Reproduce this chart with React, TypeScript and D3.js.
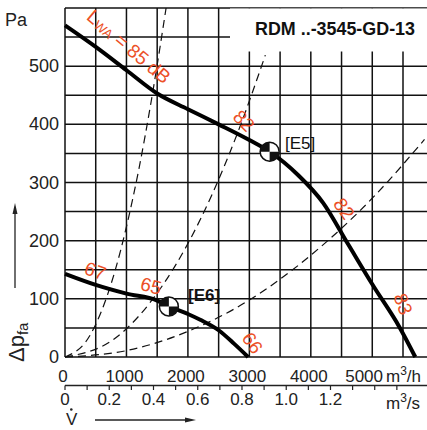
import React from "react";
import * as d3 from "d3";

// ---- data (flow in m³/h, pressure in Pa) ----
const flowTicks = [0, 1000, 2000, 3000, 4000, 5000];
const flowGrid = [0, 500, 1000, 1500, 2000, 2500, 3000, 3500, 4000, 4500, 5000, 5500];
const paTicks = [0, 100, 200, 300, 400, 500];
const paGrid = [0, 50, 100, 150, 200, 250, 300, 350, 400, 450, 500, 550, 600];
const m3sTicks = [0, 0.1, 0.2, 0.3, 0.4, 0.5, 0.6, 0.7, 0.8, 0.9, 1.0, 1.1, 1.2, 1.3, 1.4, 1.5];
const m3sLabels = [0, 0.2, 0.4, 0.6, 0.8, 1.0, 1.2];

const e5Flow = [0, 500, 1000, 1500, 2000, 2500, 3000, 3330, 3800, 4200, 4600, 5000, 5450, 5700];
const e5Pa = [570, 533, 493, 453, 426, 400, 373, 353, 312, 265, 195, 125, 50, 0];
const e6Flow = [0, 500, 1000, 1500, 1690, 2000, 2200, 2500, 2750, 2980];
const e6Pa = [143, 124, 109, 97, 87, 74, 64, 46, 23, 0];

const sys1Flow = [0, 400, 800, 1000, 1200, 1400, 1645];
const sys1Pa = [0, 36, 143, 224, 322, 438, 600];
const sys2Flow = [0, 800, 1600, 2000, 2400, 2800, 3260];
const sys2Pa = [0, 31, 125, 195, 281, 383, 519];
const sys3Flow = [0, 1000, 2000, 3000, 4000, 5000, 5850];
const sys3Pa = [0, 11, 44, 98, 175, 273, 374];

const points = [
  { name: "[E5]", flow: 3330, pa: 353 },
  { name: "[E6]", flow: 1690, pa: 87 },
];

const soundLabels = [
  { text: "85", flow: 1040, pa: 534, rot: 40 },
  { text: "82", flow: 2910, pa: 406, rot: 45 },
  { text: "82", flow: 4540, pa: 255, rot: 55 },
  { text: "83", flow: 5500, pa: 91, rot: 70 },
  { text: "67", flow: 490, pa: 148, rot: 20 },
  { text: "65", flow: 1400, pa: 122, rot: 15 },
  { text: "66", flow: 3050, pa: 24, rot: 55 },
];

const FONT = "'Liberation Sans', Arial, sans-serif";
const ORANGE = "#ec5027";
const INK = "#111";

export default function App() {
  const x = d3.scaleLinear().domain([0, 5500]).range([65, 403]);
  const y = d3.scaleLinear().domain([0, 600]).range([357, 8]);
  const xs = (q: number) => x(q * 3600);

  const line = d3
    .line<[number, number]>()
    .x((d) => x(d[0]))
    .y((d) => y(d[1]))
    .curve(d3.curveMonotoneX);
  const zip = (a: number[], b: number[]) => a.map((v, i) => [v, b[i]] as [number, number]);

  const rightEdge = 427;

  const marker = (cx: number, cy: number, key: string) => {
    const r = 9.5;
    const arc = d3.arc<any>().innerRadius(0).outerRadius(r);
    return (
      <g key={key} transform={`translate(${cx},${cy})`}>
        <circle r={r} fill="#fff" stroke={INK} strokeWidth={1.5} />
        <path d={arc({ startAngle: -Math.PI / 2, endAngle: 0 }) as string} fill={INK} />
        <path d={arc({ startAngle: Math.PI / 2, endAngle: Math.PI }) as string} fill={INK} />
      </g>
    );
  };

  return (
    <svg width={427} height={430} style={{ position: "absolute", left: 0, top: 0 }} fontFamily={FONT}>
      <rect width={427} height={430} fill="#fff" />
      {/* grid */}
      {paGrid.map((p) => (
        <line key={"h" + p} x1={x(0)} x2={rightEdge} y1={y(p)} y2={y(p)} stroke={INK} strokeWidth={1.5} />
      ))}
      {flowGrid.map((f) => (
        <line key={"v" + f} x1={x(f)} x2={x(f)} y1={y(600)} y2={y(0)} stroke={INK} strokeWidth={1.5} />
      ))}

      {/* system curves */}
      {[zip(sys1Flow, sys1Pa), zip(sys2Flow, sys2Pa), zip(sys3Flow, sys3Pa)].map((d, i) => (
        <path key={"s" + i} d={line(d) as string} fill="none" stroke={INK} strokeWidth={1.2} strokeDasharray="8,5" />
      ))}

      {/* title box */}
      <rect x={230} y={8.5} width={200} height={43} fill="#fff" />
      <text x={255} y={35} fontSize={18} fontWeight="bold" fill={INK} textLength={160} lengthAdjust="spacingAndGlyphs">
        RDM ..-3545-GD-13
      </text>

      {/* fan curves */}
      <path d={line(zip(e5Flow, e5Pa)) as string} fill="none" stroke="#000" strokeWidth={4} />
      <path d={line(zip(e6Flow, e6Pa)) as string} fill="none" stroke="#000" strokeWidth={4} />

      {/* operating points */}
      {points.map((p) => marker(x(p.flow), y(p.pa), p.name))}
      <text x={285} y={149} fontSize={17} fill={INK}>[E5]</text>
      <text x={188} y={301} fontSize={17} fontWeight="bold" fill={INK}>[E6]</text>

      {/* sound level labels */}
      {soundLabels.map((l, i) =>
        i === 0 ? (
          <text key={"o" + i} transform={`translate(${x(l.flow)},${y(l.pa)}) rotate(${l.rot})`} fontSize={19} fill={ORANGE} textAnchor="middle" dominantBaseline="central">
            L<tspan fontSize={13} dy={3}>WA</tspan>
            <tspan dy={-3}> = {l.text} dB</tspan>
          </text>
        ) : (
          <text key={"o" + i} transform={`translate(${x(l.flow)},${y(l.pa)}) rotate(${l.rot})`} fontSize={19} fill={ORANGE} textAnchor="middle" dominantBaseline="central">
            {l.text}
          </text>
        )
      )}

      {/* y axis labels */}
      {paTicks.map((p) => (
        <text key={"yl" + p} x={59} y={y(p) + 6} fontSize={18} textAnchor="end" fill="#222">
          {p}
        </text>
      ))}
      <text x={5} y={26} fontSize={18} fill="#222">Pa</text>

      {/* Δp label + arrow */}
      <text transform="translate(24,362) rotate(-90)" fontSize={22} fill="#222">
        Δp<tspan fontSize={15} dy={3.5}>fa</tspan>
      </text>
      <line x1={15} x2={15} y1={288} y2={212} stroke="#222" strokeWidth={1.3} />
      <path d="M15,203 L12.5,214 L17.5,214 Z" fill="#222" />

      {/* x axis labels m³/h */}
      {flowTicks.map((f) => (
        <text
          key={"xl" + f}
          x={f === 5000 ? 383 : x(f) - 2}
          y={382}
          fontSize={17}
          textAnchor={f === 5000 ? "end" : "middle"}
          fill="#222"
        >
          {f}
        </text>
      ))}
      <text x={386} y={382} fontSize={17} fill="#222">
        m<tspan fontSize={12} dy={-7}>3</tspan>
        <tspan dy={7}>/h</tspan>
      </text>

      {/* secondary axis m³/s */}
      <line x1={xs(0)} x2={rightEdge} y1={385.5} y2={385.5} stroke="#222" strokeWidth={1.3} />
      {m3sTicks.map((q) => (
        <line key={"t" + q} x1={xs(q)} x2={xs(q)} y1={385.5} y2={390} stroke="#222" strokeWidth={1.2} />
      ))}
      {m3sLabels.map((q) => (
        <text key={"sl" + q} x={xs(q)} y={405} fontSize={17} textAnchor="middle" fill="#222">
          {q === 0 ? "0" : q.toFixed(1)}
        </text>
      ))}
      <text x={386} y={409} fontSize={17} fill="#222">
        m<tspan fontSize={12} dy={-7}>3</tspan>
        <tspan dy={7}>/s</tspan>
      </text>

      {/* V̇ label + arrow */}
      <text x={66} y={425} fontSize={17} fill="#222">V</text>
      <circle cx={71.3} cy={409.5} r={1.3} fill="#222" />
      <line x1={95} x2={186} y1={420} y2={420} stroke="#222" strokeWidth={1.3} />
      <path d="M196,420 L185,417.5 L185,422.5 Z" fill="#222" />
    </svg>
  );
}
